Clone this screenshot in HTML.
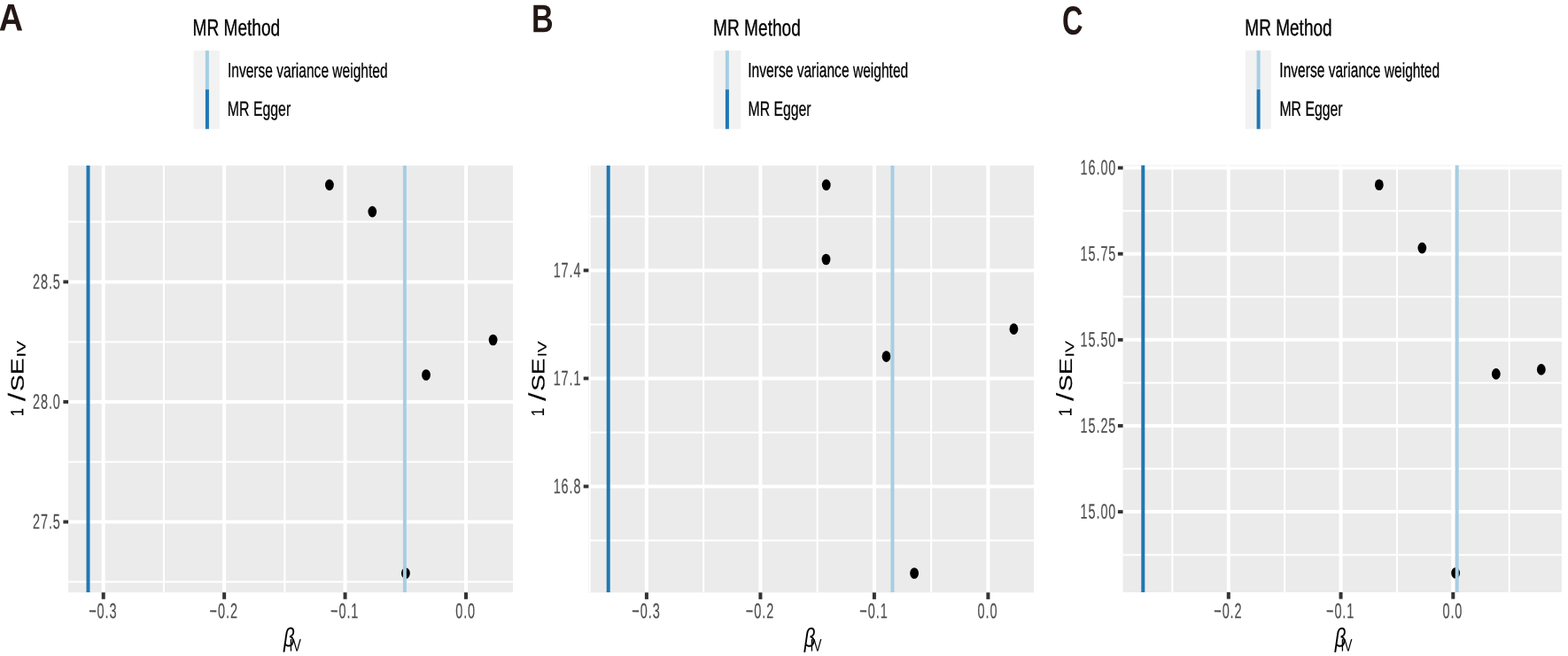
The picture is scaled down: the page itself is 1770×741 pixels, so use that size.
<!DOCTYPE html><html><head><meta charset="utf-8"><style>html,body{margin:0;padding:0;background:#fff}svg{display:block;text-rendering:geometricPrecision}</style></head><body><svg width="1770" height="741" viewBox="0 0 1770 741"><rect x="0" y="0" width="1770" height="741" fill="#fff"/><rect x="77.1" y="187.0" width="501.90" height="482.20" fill="#EBEBEB"/><g clip-path="url(#clipA)"><line x1="77.1" x2="579.0" y1="250.62" y2="250.62" stroke="#fff" stroke-width="2.0"/><line x1="77.1" x2="579.0" y1="386.17" y2="386.17" stroke="#fff" stroke-width="2.0"/><line x1="77.1" x2="579.0" y1="521.73" y2="521.73" stroke="#fff" stroke-width="2.0"/><line x1="77.1" x2="579.0" y1="657.27" y2="657.27" stroke="#fff" stroke-width="2.0"/><line x1="184.93" x2="184.93" y1="187.0" y2="669.2" stroke="#fff" stroke-width="2.0"/><line x1="321.36" x2="321.36" y1="187.0" y2="669.2" stroke="#fff" stroke-width="2.0"/><line x1="457.78" x2="457.78" y1="187.0" y2="669.2" stroke="#fff" stroke-width="2.0"/><line x1="77.1" x2="579.0" y1="318.40" y2="318.40" stroke="#fff" stroke-width="4.0"/><line x1="77.1" x2="579.0" y1="453.95" y2="453.95" stroke="#fff" stroke-width="4.0"/><line x1="77.1" x2="579.0" y1="589.50" y2="589.50" stroke="#fff" stroke-width="4.0"/><line x1="116.71" x2="116.71" y1="187.0" y2="669.2" stroke="#fff" stroke-width="4.0"/><line x1="253.14" x2="253.14" y1="187.0" y2="669.2" stroke="#fff" stroke-width="4.0"/><line x1="389.57" x2="389.57" y1="187.0" y2="669.2" stroke="#fff" stroke-width="4.0"/><line x1="526.00" x2="526.00" y1="187.0" y2="669.2" stroke="#fff" stroke-width="4.0"/><ellipse cx="371.9" cy="208.9" rx="4.9" ry="6.3" fill="#000"/><ellipse cx="420.3" cy="239.1" rx="4.9" ry="6.3" fill="#000"/><ellipse cx="556.6" cy="384.0" rx="4.9" ry="6.3" fill="#000"/><ellipse cx="481.0" cy="423.5" rx="4.9" ry="6.3" fill="#000"/><ellipse cx="457.9" cy="647.5" rx="4.9" ry="6.3" fill="#000"/><line x1="456.9" x2="456.9" y1="187.0" y2="669.2" stroke="#A6CEE3" stroke-width="4"/><line x1="99.5" x2="99.5" y1="187.0" y2="669.2" stroke="#1F78B4" stroke-width="4"/></g><clipPath id="clipA"><rect x="77.1" y="187.0" width="501.90" height="482.20"/></clipPath><line x1="71.40" x2="77.1" y1="318.40" y2="318.40" stroke="#333333" stroke-width="3.9"/><line x1="71.40" x2="77.1" y1="453.95" y2="453.95" stroke="#333333" stroke-width="3.9"/><line x1="71.40" x2="77.1" y1="589.50" y2="589.50" stroke="#333333" stroke-width="3.9"/><line x1="116.71" x2="116.71" y1="669.2" y2="676.80" stroke="#333333" stroke-width="4.0"/><line x1="253.14" x2="253.14" y1="669.2" y2="676.80" stroke="#333333" stroke-width="4.0"/><line x1="389.57" x2="389.57" y1="669.2" y2="676.80" stroke="#333333" stroke-width="4.0"/><line x1="526.00" x2="526.00" y1="669.2" y2="676.80" stroke="#333333" stroke-width="4.0"/><g transform="matrix(0.36177,0.0008,0.0008,0.59517,68.825,326.199)"><text x="0" y="0" text-anchor="end" font-family='"Liberation Sans", Arial, sans-serif' font-size="40" font-weight="normal" font-style="normal" letter-spacing="2.5" fill="#4D4D4D" stroke="#4D4D4D" stroke-width="0.3" vector-effect="non-scaling-stroke">28.5</text></g><g transform="matrix(0.36177,0.0008,0.0008,0.59517,68.825,461.749)"><text x="0" y="0" text-anchor="end" font-family='"Liberation Sans", Arial, sans-serif' font-size="40" font-weight="normal" font-style="normal" letter-spacing="2.5" fill="#4D4D4D" stroke="#4D4D4D" stroke-width="0.3" vector-effect="non-scaling-stroke">28.0</text></g><g transform="matrix(0.36177,0.0008,0.0008,0.59517,68.825,597.299)"><text x="0" y="0" text-anchor="end" font-family='"Liberation Sans", Arial, sans-serif' font-size="40" font-weight="normal" font-style="normal" letter-spacing="2.5" fill="#4D4D4D" stroke="#4D4D4D" stroke-width="0.3" vector-effect="non-scaling-stroke">27.5</text></g><g transform="matrix(0.36288,0.0008,0.0008,0.60150,116.307,698.262)"><text x="0" y="0" text-anchor="middle" font-family='"Liberation Sans", Arial, sans-serif' font-size="40" font-weight="normal" font-style="normal" letter-spacing="2.5" fill="#4D4D4D" stroke="#4D4D4D" stroke-width="0.3" vector-effect="non-scaling-stroke">−0.3</text></g><g transform="matrix(0.36288,0.0008,0.0008,0.60150,252.737,698.262)"><text x="0" y="0" text-anchor="middle" font-family='"Liberation Sans", Arial, sans-serif' font-size="40" font-weight="normal" font-style="normal" letter-spacing="2.5" fill="#4D4D4D" stroke="#4D4D4D" stroke-width="0.3" vector-effect="non-scaling-stroke">−0.2</text></g><g transform="matrix(0.36288,0.0008,0.0008,0.60150,389.167,698.262)"><text x="0" y="0" text-anchor="middle" font-family='"Liberation Sans", Arial, sans-serif' font-size="40" font-weight="normal" font-style="normal" letter-spacing="2.5" fill="#4D4D4D" stroke="#4D4D4D" stroke-width="0.3" vector-effect="non-scaling-stroke">−0.1</text></g><g transform="matrix(0.36288,0.0008,0.0008,0.60150,525.597,698.262)"><text x="0" y="0" text-anchor="middle" font-family='"Liberation Sans", Arial, sans-serif' font-size="40" font-weight="normal" font-style="normal" letter-spacing="2.5" fill="#4D4D4D" stroke="#4D4D4D" stroke-width="0.3" vector-effect="non-scaling-stroke">0.0</text></g><rect x="218.60" y="57.1" width="29.20" height="88.6" fill="#F2F2F2"/><line x1="233.90" x2="233.90" y1="57.1" y2="101.1" stroke="#A6CEE3" stroke-width="4"/><line x1="233.90" x2="233.90" y1="101.1" y2="145.7" stroke="#1F78B4" stroke-width="4"/><rect x="664.4" y="187.0" width="502.60" height="482.30" fill="#EBEBEB"/><g clip-path="url(#clipB)"><line x1="664.4" x2="1167.0" y1="244.45" y2="244.45" stroke="#fff" stroke-width="2.0"/><line x1="664.4" x2="1167.0" y1="366.45" y2="366.45" stroke="#fff" stroke-width="2.0"/><line x1="664.4" x2="1167.0" y1="488.45" y2="488.45" stroke="#fff" stroke-width="2.0"/><line x1="664.4" x2="1167.0" y1="610.45" y2="610.45" stroke="#fff" stroke-width="2.0"/><line x1="665.65" x2="665.65" y1="187.0" y2="669.3" stroke="#fff" stroke-width="2.0"/><line x1="794.15" x2="794.15" y1="187.0" y2="669.3" stroke="#fff" stroke-width="2.0"/><line x1="922.65" x2="922.65" y1="187.0" y2="669.3" stroke="#fff" stroke-width="2.0"/><line x1="1051.15" x2="1051.15" y1="187.0" y2="669.3" stroke="#fff" stroke-width="2.0"/><line x1="664.4" x2="1167.0" y1="305.45" y2="305.45" stroke="#fff" stroke-width="4.0"/><line x1="664.4" x2="1167.0" y1="427.45" y2="427.45" stroke="#fff" stroke-width="4.0"/><line x1="664.4" x2="1167.0" y1="549.45" y2="549.45" stroke="#fff" stroke-width="4.0"/><line x1="729.90" x2="729.90" y1="187.0" y2="669.3" stroke="#fff" stroke-width="4.0"/><line x1="858.40" x2="858.40" y1="187.0" y2="669.3" stroke="#fff" stroke-width="4.0"/><line x1="986.90" x2="986.90" y1="187.0" y2="669.3" stroke="#fff" stroke-width="4.0"/><line x1="1115.40" x2="1115.40" y1="187.0" y2="669.3" stroke="#fff" stroke-width="4.0"/><ellipse cx="932.7" cy="208.9" rx="4.9" ry="6.3" fill="#000"/><ellipse cx="932.5" cy="293.0" rx="4.9" ry="6.3" fill="#000"/><ellipse cx="1144.4" cy="371.6" rx="4.9" ry="6.3" fill="#000"/><ellipse cx="1000.5" cy="402.6" rx="4.9" ry="6.3" fill="#000"/><ellipse cx="1032.1" cy="647.5" rx="4.9" ry="6.3" fill="#000"/><line x1="1007.45" x2="1007.45" y1="187.0" y2="669.3" stroke="#A6CEE3" stroke-width="4"/><line x1="686.7" x2="686.7" y1="187.0" y2="669.3" stroke="#1F78B4" stroke-width="4"/></g><clipPath id="clipB"><rect x="664.4" y="187.0" width="502.60" height="482.30"/></clipPath><line x1="658.70" x2="664.4" y1="305.45" y2="305.45" stroke="#333333" stroke-width="3.9"/><line x1="658.70" x2="664.4" y1="427.45" y2="427.45" stroke="#333333" stroke-width="3.9"/><line x1="658.70" x2="664.4" y1="549.45" y2="549.45" stroke="#333333" stroke-width="3.9"/><line x1="729.90" x2="729.90" y1="669.3" y2="676.90" stroke="#333333" stroke-width="4.0"/><line x1="858.40" x2="858.40" y1="669.3" y2="676.90" stroke="#333333" stroke-width="4.0"/><line x1="986.90" x2="986.90" y1="669.3" y2="676.90" stroke="#333333" stroke-width="4.0"/><line x1="1115.40" x2="1115.40" y1="669.3" y2="676.90" stroke="#333333" stroke-width="4.0"/><g transform="matrix(0.36177,0.0008,0.0008,0.59517,656.425,313.249)"><text x="0" y="0" text-anchor="end" font-family='"Liberation Sans", Arial, sans-serif' font-size="40" font-weight="normal" font-style="normal" letter-spacing="2.5" fill="#4D4D4D" stroke="#4D4D4D" stroke-width="0.3" vector-effect="non-scaling-stroke">17.4</text></g><g transform="matrix(0.36177,0.0008,0.0008,0.59517,656.425,435.250)"><text x="0" y="0" text-anchor="end" font-family='"Liberation Sans", Arial, sans-serif' font-size="40" font-weight="normal" font-style="normal" letter-spacing="2.5" fill="#4D4D4D" stroke="#4D4D4D" stroke-width="0.3" vector-effect="non-scaling-stroke">17.1</text></g><g transform="matrix(0.36177,0.0008,0.0008,0.59517,656.425,557.251)"><text x="0" y="0" text-anchor="end" font-family='"Liberation Sans", Arial, sans-serif' font-size="40" font-weight="normal" font-style="normal" letter-spacing="2.5" fill="#4D4D4D" stroke="#4D4D4D" stroke-width="0.3" vector-effect="non-scaling-stroke">16.8</text></g><g transform="matrix(0.36288,0.0008,0.0008,0.60150,729.497,698.262)"><text x="0" y="0" text-anchor="middle" font-family='"Liberation Sans", Arial, sans-serif' font-size="40" font-weight="normal" font-style="normal" letter-spacing="2.5" fill="#4D4D4D" stroke="#4D4D4D" stroke-width="0.3" vector-effect="non-scaling-stroke">−0.3</text></g><g transform="matrix(0.36288,0.0008,0.0008,0.60150,857.997,698.262)"><text x="0" y="0" text-anchor="middle" font-family='"Liberation Sans", Arial, sans-serif' font-size="40" font-weight="normal" font-style="normal" letter-spacing="2.5" fill="#4D4D4D" stroke="#4D4D4D" stroke-width="0.3" vector-effect="non-scaling-stroke">−0.2</text></g><g transform="matrix(0.36288,0.0008,0.0008,0.60150,986.497,698.262)"><text x="0" y="0" text-anchor="middle" font-family='"Liberation Sans", Arial, sans-serif' font-size="40" font-weight="normal" font-style="normal" letter-spacing="2.5" fill="#4D4D4D" stroke="#4D4D4D" stroke-width="0.3" vector-effect="non-scaling-stroke">−0.1</text></g><g transform="matrix(0.36288,0.0008,0.0008,0.60150,1114.997,698.262)"><text x="0" y="0" text-anchor="middle" font-family='"Liberation Sans", Arial, sans-serif' font-size="40" font-weight="normal" font-style="normal" letter-spacing="2.5" fill="#4D4D4D" stroke="#4D4D4D" stroke-width="0.3" vector-effect="non-scaling-stroke">0.0</text></g><rect x="805.70" y="57.1" width="30.60" height="88.6" fill="#F2F2F2"/><line x1="820.90" x2="820.90" y1="57.1" y2="101.1" stroke="#A6CEE3" stroke-width="4"/><line x1="820.90" x2="820.90" y1="101.1" y2="145.7" stroke="#1F78B4" stroke-width="4"/><rect x="1267.6" y="186.6" width="495.30" height="482.40" fill="#EBEBEB"/><g clip-path="url(#clipC)"><line x1="1267.6" x2="1762.9" y1="238.16" y2="238.16" stroke="#fff" stroke-width="2.0"/><line x1="1267.6" x2="1762.9" y1="335.29" y2="335.29" stroke="#fff" stroke-width="2.0"/><line x1="1267.6" x2="1762.9" y1="432.41" y2="432.41" stroke="#fff" stroke-width="2.0"/><line x1="1267.6" x2="1762.9" y1="529.54" y2="529.54" stroke="#fff" stroke-width="2.0"/><line x1="1267.6" x2="1762.9" y1="626.66" y2="626.66" stroke="#fff" stroke-width="2.0"/><line x1="1323.42" x2="1323.42" y1="186.6" y2="669.0" stroke="#fff" stroke-width="2.0"/><line x1="1450.17" x2="1450.17" y1="186.6" y2="669.0" stroke="#fff" stroke-width="2.0"/><line x1="1576.92" x2="1576.92" y1="186.6" y2="669.0" stroke="#fff" stroke-width="2.0"/><line x1="1703.67" x2="1703.67" y1="186.6" y2="669.0" stroke="#fff" stroke-width="2.0"/><line x1="1267.6" x2="1762.9" y1="189.60" y2="189.60" stroke="#fff" stroke-width="4.0"/><line x1="1267.6" x2="1762.9" y1="286.73" y2="286.73" stroke="#fff" stroke-width="4.0"/><line x1="1267.6" x2="1762.9" y1="383.85" y2="383.85" stroke="#fff" stroke-width="4.0"/><line x1="1267.6" x2="1762.9" y1="480.98" y2="480.98" stroke="#fff" stroke-width="4.0"/><line x1="1267.6" x2="1762.9" y1="578.10" y2="578.10" stroke="#fff" stroke-width="4.0"/><line x1="1386.80" x2="1386.80" y1="186.6" y2="669.0" stroke="#fff" stroke-width="4.0"/><line x1="1513.55" x2="1513.55" y1="186.6" y2="669.0" stroke="#fff" stroke-width="4.0"/><line x1="1640.30" x2="1640.30" y1="186.6" y2="669.0" stroke="#fff" stroke-width="4.0"/><ellipse cx="1556.8" cy="208.8" rx="4.9" ry="6.3" fill="#000"/><ellipse cx="1605.3" cy="280.1" rx="4.9" ry="6.3" fill="#000"/><ellipse cx="1688.8" cy="422.4" rx="4.9" ry="6.3" fill="#000"/><ellipse cx="1739.8" cy="417.4" rx="4.9" ry="6.3" fill="#000"/><ellipse cx="1643.1" cy="647.3" rx="4.9" ry="6.3" fill="#000"/><line x1="1644.7" x2="1644.7" y1="186.6" y2="669.0" stroke="#A6CEE3" stroke-width="4"/><line x1="1290.3" x2="1290.3" y1="186.6" y2="669.0" stroke="#1F78B4" stroke-width="4"/></g><clipPath id="clipC"><rect x="1267.6" y="186.6" width="495.30" height="482.40"/></clipPath><line x1="1261.90" x2="1267.6" y1="189.60" y2="189.60" stroke="#333333" stroke-width="3.9"/><line x1="1261.90" x2="1267.6" y1="286.73" y2="286.73" stroke="#333333" stroke-width="3.9"/><line x1="1261.90" x2="1267.6" y1="383.85" y2="383.85" stroke="#333333" stroke-width="3.9"/><line x1="1261.90" x2="1267.6" y1="480.98" y2="480.98" stroke="#333333" stroke-width="3.9"/><line x1="1261.90" x2="1267.6" y1="578.10" y2="578.10" stroke="#333333" stroke-width="3.9"/><line x1="1386.80" x2="1386.80" y1="669.0" y2="676.60" stroke="#333333" stroke-width="4.0"/><line x1="1513.55" x2="1513.55" y1="669.0" y2="676.60" stroke="#333333" stroke-width="4.0"/><line x1="1640.30" x2="1640.30" y1="669.0" y2="676.60" stroke="#333333" stroke-width="4.0"/><g transform="matrix(0.36177,0.0008,0.0008,0.59517,1260.325,197.399)"><text x="0" y="0" text-anchor="end" font-family='"Liberation Sans", Arial, sans-serif' font-size="40" font-weight="normal" font-style="normal" letter-spacing="2.5" fill="#4D4D4D" stroke="#4D4D4D" stroke-width="0.3" vector-effect="non-scaling-stroke">16.00</text></g><g transform="matrix(0.36177,0.0008,0.0008,0.59517,1260.325,294.524)"><text x="0" y="0" text-anchor="end" font-family='"Liberation Sans", Arial, sans-serif' font-size="40" font-weight="normal" font-style="normal" letter-spacing="2.5" fill="#4D4D4D" stroke="#4D4D4D" stroke-width="0.3" vector-effect="non-scaling-stroke">15.75</text></g><g transform="matrix(0.36177,0.0008,0.0008,0.59517,1260.325,391.649)"><text x="0" y="0" text-anchor="end" font-family='"Liberation Sans", Arial, sans-serif' font-size="40" font-weight="normal" font-style="normal" letter-spacing="2.5" fill="#4D4D4D" stroke="#4D4D4D" stroke-width="0.3" vector-effect="non-scaling-stroke">15.50</text></g><g transform="matrix(0.36177,0.0008,0.0008,0.59517,1260.325,488.774)"><text x="0" y="0" text-anchor="end" font-family='"Liberation Sans", Arial, sans-serif' font-size="40" font-weight="normal" font-style="normal" letter-spacing="2.5" fill="#4D4D4D" stroke="#4D4D4D" stroke-width="0.3" vector-effect="non-scaling-stroke">15.25</text></g><g transform="matrix(0.36177,0.0008,0.0008,0.59517,1260.325,585.899)"><text x="0" y="0" text-anchor="end" font-family='"Liberation Sans", Arial, sans-serif' font-size="40" font-weight="normal" font-style="normal" letter-spacing="2.5" fill="#4D4D4D" stroke="#4D4D4D" stroke-width="0.3" vector-effect="non-scaling-stroke">15.00</text></g><g transform="matrix(0.36288,0.0008,0.0008,0.60150,1386.397,698.262)"><text x="0" y="0" text-anchor="middle" font-family='"Liberation Sans", Arial, sans-serif' font-size="40" font-weight="normal" font-style="normal" letter-spacing="2.5" fill="#4D4D4D" stroke="#4D4D4D" stroke-width="0.3" vector-effect="non-scaling-stroke">−0.2</text></g><g transform="matrix(0.36288,0.0008,0.0008,0.60150,1513.147,698.262)"><text x="0" y="0" text-anchor="middle" font-family='"Liberation Sans", Arial, sans-serif' font-size="40" font-weight="normal" font-style="normal" letter-spacing="2.5" fill="#4D4D4D" stroke="#4D4D4D" stroke-width="0.3" vector-effect="non-scaling-stroke">−0.1</text></g><g transform="matrix(0.36288,0.0008,0.0008,0.60150,1639.897,698.262)"><text x="0" y="0" text-anchor="middle" font-family='"Liberation Sans", Arial, sans-serif' font-size="40" font-weight="normal" font-style="normal" letter-spacing="2.5" fill="#4D4D4D" stroke="#4D4D4D" stroke-width="0.3" vector-effect="non-scaling-stroke">0.0</text></g><rect x="1405.70" y="57.1" width="29.10" height="88.6" fill="#F2F2F2"/><line x1="1420.60" x2="1420.60" y1="57.1" y2="101.1" stroke="#A6CEE3" stroke-width="4"/><line x1="1420.60" x2="1420.60" y1="101.1" y2="145.7" stroke="#1F78B4" stroke-width="4"/><g transform="matrix(0.94617,0.0008,0.0008,1.07679,-1.327,34.593)"><text x="0" y="0" text-anchor="start" font-family='"Liberation Sans", Arial, sans-serif' font-size="40" font-weight="bold" font-style="normal" fill="#231815">A</text></g><g transform="matrix(0.85489,0.0008,0.0008,1.11046,600.026,36.342)"><text x="0" y="0" text-anchor="start" font-family='"Liberation Sans", Arial, sans-serif' font-size="40" font-weight="bold" font-style="normal" fill="#231815">B</text></g><g transform="matrix(0.81329,0.0008,0.0008,1.13461,1199.106,38.688)"><text x="0" y="0" text-anchor="start" font-family='"Liberation Sans", Arial, sans-serif' font-size="40" font-weight="bold" font-style="normal" fill="#231815">C</text></g><g transform="matrix(0.47722,0.0008,0.0008,0.65472,217.526,39.986)"><text x="0" y="0" text-anchor="start" font-family='"Liberation Sans", Arial, sans-serif' font-size="40" font-weight="normal" font-style="normal" fill="#000" stroke="#000" stroke-width="0.5" vector-effect="non-scaling-stroke">MR Method</text></g><g transform="matrix(0.38888,0.0008,0.0008,0.57332,256.907,87.098)"><text x="0" y="0" text-anchor="start" font-family='"Liberation Sans", Arial, sans-serif' font-size="40" font-weight="normal" font-style="normal" fill="#000" stroke="#000" stroke-width="0.5" vector-effect="non-scaling-stroke">Inverse variance weighted</text></g><g transform="matrix(0.39621,0.0008,0.0008,0.58608,256.829,130.698)"><text x="0" y="0" text-anchor="start" font-family='"Liberation Sans", Arial, sans-serif' font-size="40" font-weight="normal" font-style="normal" fill="#000" stroke="#000" stroke-width="0.5" vector-effect="non-scaling-stroke">MR Egger</text></g><g transform="matrix(0.50773,0.0008,0.0008,0.41781,26.322,470.192)"><text x="0" y="0" transform="rotate(-90)" text-anchor="start" font-family='"Liberation Sans", Arial, sans-serif' font-size="40" font-weight="normal" font-style="normal" fill="#000" stroke="#000" stroke-width="0.35" vector-effect="non-scaling-stroke">1</text></g><g transform="matrix(0.67075,0.0008,0.0008,0.83649,28.156,453.183)"><text x="0" y="0" transform="rotate(-90)" text-anchor="start" font-family='"Liberation Sans", Arial, sans-serif' font-size="40" font-weight="normal" font-style="normal" fill="#000" stroke="#000" stroke-width="0.2" vector-effect="non-scaling-stroke">/</text></g><g transform="matrix(0.50551,0.0008,0.0008,0.69841,26.632,441.896)"><text x="0" y="0" transform="rotate(-90)" text-anchor="start" font-family='"Liberation Sans", Arial, sans-serif' font-size="40" font-weight="normal" font-style="normal" fill="#000" stroke="#000" stroke-width="0.35" vector-effect="non-scaling-stroke">SE</text></g><g transform="matrix(0.34798,0.0008,0.0008,0.48710,28.784,403.489)"><text x="0" y="0" transform="rotate(-90)" text-anchor="start" font-family='"Liberation Sans", Arial, sans-serif' font-size="40" font-weight="normal" font-style="normal" fill="#000" stroke="#000" stroke-width="0.35" vector-effect="non-scaling-stroke">IV</text></g><g transform="matrix(0.55900,0.0008,0.0008,0.75040,319.912,730.209)"><text x="0" y="0" text-anchor="start" font-family='"Liberation Sans", Arial, sans-serif' font-size="40" font-weight="normal" font-style="italic" fill="#000">β</text></g><g transform="matrix(0.35169,0.0008,0.0008,0.49379,326.489,735.506)"><text x="0" y="0" text-anchor="start" font-family='"Liberation Sans", Arial, sans-serif' font-size="40" font-weight="normal" font-style="normal" fill="#000">IV</text></g><g transform="matrix(0.47770,0.0008,0.0008,0.65153,805.096,40.058)"><text x="0" y="0" text-anchor="start" font-family='"Liberation Sans", Arial, sans-serif' font-size="40" font-weight="normal" font-style="normal" fill="#000" stroke="#000" stroke-width="0.5" vector-effect="non-scaling-stroke">MR Method</text></g><g transform="matrix(0.38949,0.0008,0.0008,0.57938,844.250,86.896)"><text x="0" y="0" text-anchor="start" font-family='"Liberation Sans", Arial, sans-serif' font-size="40" font-weight="normal" font-style="normal" fill="#000" stroke="#000" stroke-width="0.5" vector-effect="non-scaling-stroke">Inverse variance weighted</text></g><g transform="matrix(0.39466,0.0008,0.0008,0.58606,844.507,130.699)"><text x="0" y="0" text-anchor="start" font-family='"Liberation Sans", Arial, sans-serif' font-size="40" font-weight="normal" font-style="normal" fill="#000" stroke="#000" stroke-width="0.5" vector-effect="non-scaling-stroke">MR Egger</text></g><g transform="matrix(0.51082,0.0008,0.0008,0.42495,614.038,470.129)"><text x="0" y="0" transform="rotate(-90)" text-anchor="start" font-family='"Liberation Sans", Arial, sans-serif' font-size="40" font-weight="normal" font-style="normal" fill="#000" stroke="#000" stroke-width="0.35" vector-effect="non-scaling-stroke">1</text></g><g transform="matrix(0.66955,0.0008,0.0008,0.83454,615.826,452.977)"><text x="0" y="0" transform="rotate(-90)" text-anchor="start" font-family='"Liberation Sans", Arial, sans-serif' font-size="40" font-weight="normal" font-style="normal" fill="#000" stroke="#000" stroke-width="0.2" vector-effect="non-scaling-stroke">/</text></g><g transform="matrix(0.50396,0.0008,0.0008,0.69325,614.468,441.768)"><text x="0" y="0" transform="rotate(-90)" text-anchor="start" font-family='"Liberation Sans", Arial, sans-serif' font-size="40" font-weight="normal" font-style="normal" fill="#000" stroke="#000" stroke-width="0.35" vector-effect="non-scaling-stroke">SE</text></g><g transform="matrix(0.34728,0.0008,0.0008,0.47181,616.645,403.185)"><text x="0" y="0" transform="rotate(-90)" text-anchor="start" font-family='"Liberation Sans", Arial, sans-serif' font-size="40" font-weight="normal" font-style="normal" fill="#000" stroke="#000" stroke-width="0.35" vector-effect="non-scaling-stroke">IV</text></g><g transform="matrix(0.55455,0.0008,0.0008,0.75104,907.841,730.540)"><text x="0" y="0" text-anchor="start" font-family='"Liberation Sans", Arial, sans-serif' font-size="40" font-weight="normal" font-style="italic" fill="#000">β</text></g><g transform="matrix(0.34615,0.0008,0.0008,0.49219,914.426,735.544)"><text x="0" y="0" text-anchor="start" font-family='"Liberation Sans", Arial, sans-serif' font-size="40" font-weight="normal" font-style="normal" fill="#000">IV</text></g><g transform="matrix(0.47588,0.0008,0.0008,0.65470,1405.288,40.002)"><text x="0" y="0" text-anchor="start" font-family='"Liberation Sans", Arial, sans-serif' font-size="40" font-weight="normal" font-style="normal" fill="#000" stroke="#000" stroke-width="0.5" vector-effect="non-scaling-stroke">MR Method</text></g><g transform="matrix(0.38897,0.0008,0.0008,0.58182,1444.309,86.933)"><text x="0" y="0" text-anchor="start" font-family='"Liberation Sans", Arial, sans-serif' font-size="40" font-weight="normal" font-style="normal" fill="#000" stroke="#000" stroke-width="0.5" vector-effect="non-scaling-stroke">Inverse variance weighted</text></g><g transform="matrix(0.39528,0.0008,0.0008,0.58651,1444.402,130.696)"><text x="0" y="0" text-anchor="start" font-family='"Liberation Sans", Arial, sans-serif' font-size="40" font-weight="normal" font-style="normal" fill="#000" stroke="#000" stroke-width="0.5" vector-effect="non-scaling-stroke">MR Egger</text></g><g transform="matrix(0.51059,0.0008,0.0008,0.43237,1209.546,470.346)"><text x="0" y="0" transform="rotate(-90)" text-anchor="start" font-family='"Liberation Sans", Arial, sans-serif' font-size="40" font-weight="normal" font-style="normal" fill="#000" stroke="#000" stroke-width="0.35" vector-effect="non-scaling-stroke">1</text></g><g transform="matrix(0.66994,0.0008,0.0008,0.83088,1211.559,453.109)"><text x="0" y="0" transform="rotate(-90)" text-anchor="start" font-family='"Liberation Sans", Arial, sans-serif' font-size="40" font-weight="normal" font-style="normal" fill="#000" stroke="#000" stroke-width="0.2" vector-effect="non-scaling-stroke">/</text></g><g transform="matrix(0.50468,0.0008,0.0008,0.69871,1209.934,441.978)"><text x="0" y="0" transform="rotate(-90)" text-anchor="start" font-family='"Liberation Sans", Arial, sans-serif' font-size="40" font-weight="normal" font-style="normal" fill="#000" stroke="#000" stroke-width="0.35" vector-effect="non-scaling-stroke">SE</text></g><g transform="matrix(0.34726,0.0008,0.0008,0.48294,1212.196,403.440)"><text x="0" y="0" transform="rotate(-90)" text-anchor="start" font-family='"Liberation Sans", Arial, sans-serif' font-size="40" font-weight="normal" font-style="normal" fill="#000" stroke="#000" stroke-width="0.35" vector-effect="non-scaling-stroke">IV</text></g><g transform="matrix(0.55455,0.0008,0.0008,0.75104,1506.841,730.540)"><text x="0" y="0" text-anchor="start" font-family='"Liberation Sans", Arial, sans-serif' font-size="40" font-weight="normal" font-style="italic" fill="#000">β</text></g><g transform="matrix(0.34615,0.0008,0.0008,0.49219,1513.426,735.544)"><text x="0" y="0" text-anchor="start" font-family='"Liberation Sans", Arial, sans-serif' font-size="40" font-weight="normal" font-style="normal" fill="#000">IV</text></g></svg></body></html>
